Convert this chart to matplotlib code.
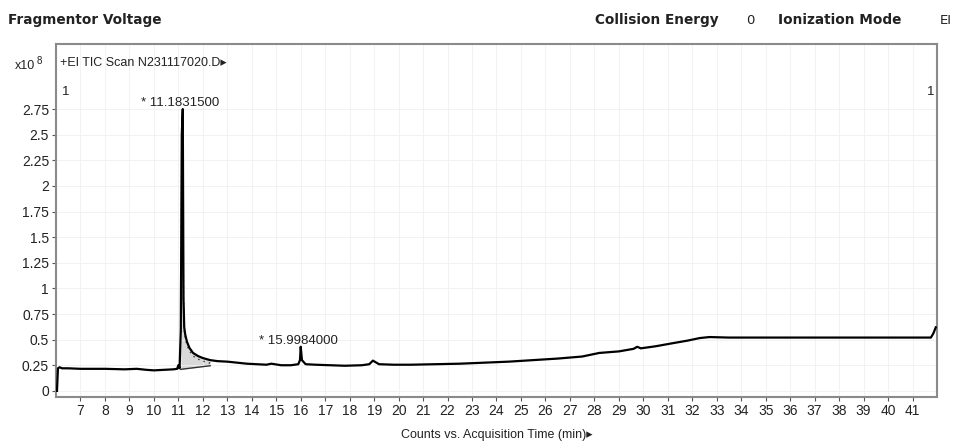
import matplotlib
matplotlib.use("Agg")
import matplotlib.pyplot as plt
import numpy as np

# ---- data (intensity in units of 1e8 counts) ----
time_min = [6.04, 6.08, 6.15, 6.25, 6.5, 7.0, 8.0, 8.8, 9.3, 9.7, 10.0, 10.4, 10.8,
            10.95, 11.0, 11.05, 11.1, 11.14, 11.18, 11.21, 11.24, 11.28, 11.35, 11.45,
            11.6, 11.8, 12.0, 12.3, 12.6, 13.0, 13.4, 13.8, 14.2, 14.6, 14.8, 15.2,
            15.6, 15.9, 15.97, 16.0, 16.05, 16.2, 16.6, 17.2, 17.8, 18.5, 18.8, 18.95,
            19.2, 19.8, 20.5, 21.5, 22.5, 23.5, 24.5, 25.5, 26.5, 27.5, 28.2, 29.0,
            29.6, 29.75, 29.9, 30.5, 31.2, 31.8, 32.3, 32.7, 33.5, 34.5, 35.5, 36.5,
            37.5, 38.5, 39.5, 40.5, 41.3, 41.75, 41.85, 41.95]
intensity = [0.0, 0.22, 0.23, 0.22, 0.22, 0.215, 0.215, 0.21, 0.215, 0.205, 0.20, 0.205, 0.21,
             0.215, 0.25, 0.22, 0.60, 2.50, 2.75, 0.90, 0.62, 0.55, 0.48, 0.42,
             0.37, 0.34, 0.32, 0.30, 0.29, 0.285, 0.275, 0.265, 0.26, 0.255, 0.265, 0.25,
             0.25, 0.26, 0.30, 0.43, 0.30, 0.26, 0.255, 0.25, 0.245, 0.25, 0.26, 0.295,
             0.26, 0.255, 0.255, 0.26, 0.265, 0.275, 0.285, 0.30, 0.315, 0.335, 0.37, 0.385,
             0.41, 0.43, 0.415, 0.435, 0.465, 0.49, 0.515, 0.525, 0.52, 0.52, 0.52, 0.52,
             0.52, 0.52, 0.52, 0.52, 0.52, 0.52, 0.56, 0.62]

# integration baseline of main peak
integ_start, integ_end = 11.1, 12.3
integ_base = [0.21, 0.245]

peak_labels = ["* 11.1831500", "* 15.9984000"]
peak_times = [11.183, 15.998]
peak_heights = [2.75, 0.43]

x_ticks = list(range(7, 42))
y_ticks = [0, 0.25, 0.5, 0.75, 1, 1.25, 1.5, 1.75, 2, 2.25, 2.5, 2.75]
y_tick_labels = ["0", "0.25", "0.5", "0.75", "1", "1.25", "1.5", "1.75", "2", "2.25", "2.5", "2.75"]

plt.rcParams['font.family'] = ['Liberation Sans', 'DejaVu Sans']

fig = plt.figure(figsize=(9.6, 4.43), dpi=100)
ax = fig.add_axes([56/960, 1 - 397/443, (937 - 56)/960, (397 - 44)/443])

t = np.array(time_min)
y = np.array(intensity)

# integration shading
mask = (t >= integ_start) & (t <= integ_end)
tt = np.concatenate([[integ_start], t[mask], [integ_end]])
yy = np.interp(tt, t, y)
bb = np.interp(tt, [integ_start, integ_end], integ_base)
ax.fill_between(tt, bb, yy, color="#d9d9d9", lw=0, zorder=1)
ax.plot([integ_start, integ_end], integ_base, color="#333333", lw=1.0, zorder=2)
ax.plot(tt, yy - 0.03, ls=(0, (1, 3)), color="#333333", lw=1.0, zorder=2)

ax.plot(t, y, color="black", lw=1.6, zorder=3)

ax.set_xlim(6.0, 42.0)
ax.set_ylim(-0.06, 3.385)
ax.set_xticks(x_ticks)
ax.set_xticklabels([str(v) for v in x_ticks])
ax.set_yticks(y_ticks)
ax.set_yticklabels(y_tick_labels)
ax.tick_params(axis="both", labelsize=10, length=3, width=0.8, color="#555555",
               labelcolor="#222222", pad=2)
ax.grid(True, color="#f0f0f0", lw=0.6, zorder=0)
for s in ax.spines.values():
    s.set_color("#8a8a8a")
    s.set_linewidth(1.5)

for lab, pt, ph in zip(peak_labels, peak_times, peak_heights):
    ax.annotate(lab, xy=(pt, ph), xytext=(-30, 0), textcoords="offset points",
                fontsize=9.5, color="#222222", va="bottom", ha="left")

ax.text(0.004, 0.945, "+EI TIC Scan N231117020.D\u25B8", transform=ax.transAxes,
        fontsize=9, va="center", ha="left", color="#222222")
ax.text(0.007, 0.865, "1", transform=ax.transAxes, fontsize=9.5, va="center", ha="left", color="#222222")
ax.text(0.997, 0.865, "1", transform=ax.transAxes, fontsize=9.5, va="center", ha="right", color="#222222")

fig.text(15/960, 1 - 72/443, "x10", fontsize=9, color="#222222", va="bottom")
fig.text(37/960, 1 - 66/443, "8", fontsize=7, color="#222222", va="bottom")

ax.set_xlabel("Counts vs. Acquisition Time (min)\u25B8", fontsize=9, color="#222222", labelpad=8)

bold = dict(fontsize=9.8, fontweight="bold", family=["DejaVu Sans"], color="#222222", va="center")
fig.text(8/960, 1 - 20/443, "Fragmentor Voltage", ha="left", **bold)
fig.text(595/960, 1 - 20/443, "Collision Energy", ha="left", **bold)
fig.text(750/960, 1 - 20/443, "0", ha="center", fontsize=9.5, family=["DejaVu Sans"], color="#222222", va="center")
fig.text(778/960, 1 - 20/443, "Ionization Mode", ha="left", **bold)
fig.text(940/960, 1 - 20/443, "EI", ha="left", fontsize=9.5, family=["DejaVu Sans"], color="#222222", va="center")

fig.savefig("out.png", dpi=100)
